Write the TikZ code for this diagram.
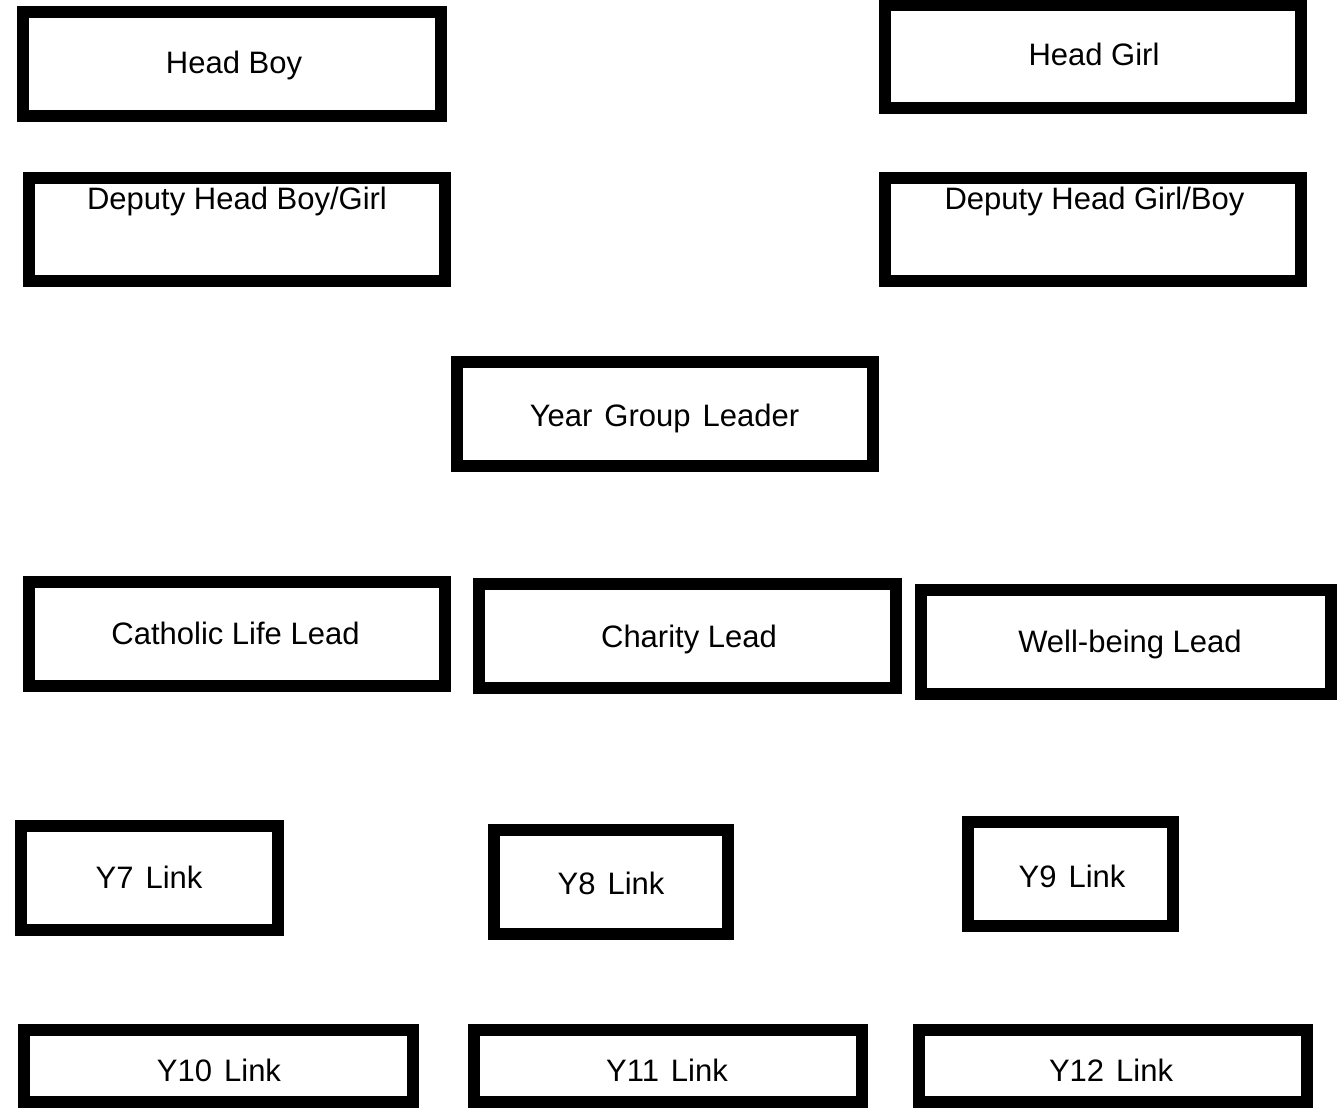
\documentclass[tikz,border=0pt]{standalone}
\usepackage{fontspec}
\setmainfont{Liberation Sans}
\newcommand\rolefont{\fontsize{31}{36}\selectfont}
\newcommand\rolefontwide{\fontsize{31}{36}\selectfont\spaceskip 12pt\relax}
\tikzset{
    role-box/.style = {draw=black, fill=white, line width=12pt, rectangle, inner sep=0pt, outer sep=0pt},
    role-text/.style = {anchor=base, inner sep=0pt, font=\rolefont},
    role-text-wide/.style = {role-text, font=\rolefontwide},
}

\begin{document}
\begin{tikzpicture}[x=1pt, y=-1pt]
\useasboundingbox (0,0) rectangle (1337,1108);
% head boy / head girl
\node[role-box, minimum width=418pt, minimum height=104pt] (headboy) at (232,64) {};
\node[role-text] (headboy-txt) at (234,74) {Head Boy};
\node[role-box, minimum width=416pt, minimum height=103pt] (headgirl) at (1093,56.5) {};
\node[role-text] (headgirl-txt) at (1094,66) {Head Girl};
% deputies
\node[role-box, minimum width=416pt, minimum height=103pt] (depboy) at (237,229.5) {};
\node[role-text] (depboy-txt) at (237,209) {Deputy Head Boy/Girl};
\node[role-box, minimum width=416pt, minimum height=103pt] (depgirl) at (1093,229.5) {};
\node[role-text] (depgirl-txt) at (1094.5,209) {Deputy Head Girl/Boy};
% year group leader
\node[role-box, minimum width=416pt, minimum height=104pt] (ygl) at (665,414) {};
\node[role-text-wide] (ygl-txt) at (664.5,426) {Year Group Leader};
% leads
\node[role-box, minimum width=416pt, minimum height=104pt] (catholic) at (237,634) {};
\node[role-text] (catholic-txt) at (235.5,644) {Catholic Life Lead};
\node[role-box, minimum width=417pt, minimum height=104pt] (charity) at (687.5,636) {};
\node[role-text] (charity-txt) at (689,647) {Charity Lead};
\node[role-box, minimum width=410pt, minimum height=104pt] (wellbeing) at (1126,642) {};
\node[role-text] (wellbeing-txt) at (1130,652) {Well-being Lead};
% year links
\node[role-box, minimum width=257pt, minimum height=104pt] (y7) at (149.5,878) {};
\node[role-text-wide] (y7-txt) at (149,888) {Y7 Link};
\node[role-box, minimum width=234pt, minimum height=104pt] (y8) at (611,882) {};
\node[role-text-wide] (y8-txt) at (611,894) {Y8 Link};
\node[role-box, minimum width=205pt, minimum height=104pt] (y9) at (1070.5,874) {};
\node[role-text-wide] (y9-txt) at (1072,887) {Y9 Link};
\node[role-box, minimum width=389pt, minimum height=72pt] (y10) at (218.5,1066) {};
\node[role-text-wide] (y10-txt) at (219,1081) {Y10 Link};
\node[role-box, minimum width=388pt, minimum height=72pt] (y11) at (668,1066) {};
\node[role-text-wide] (y11-txt) at (667,1081) {Y11 Link};
\node[role-box, minimum width=388pt, minimum height=72pt] (y12) at (1113,1066) {};
\node[role-text-wide] (y12-txt) at (1111,1081) {Y12 Link};
\end{tikzpicture}
\end{document}
